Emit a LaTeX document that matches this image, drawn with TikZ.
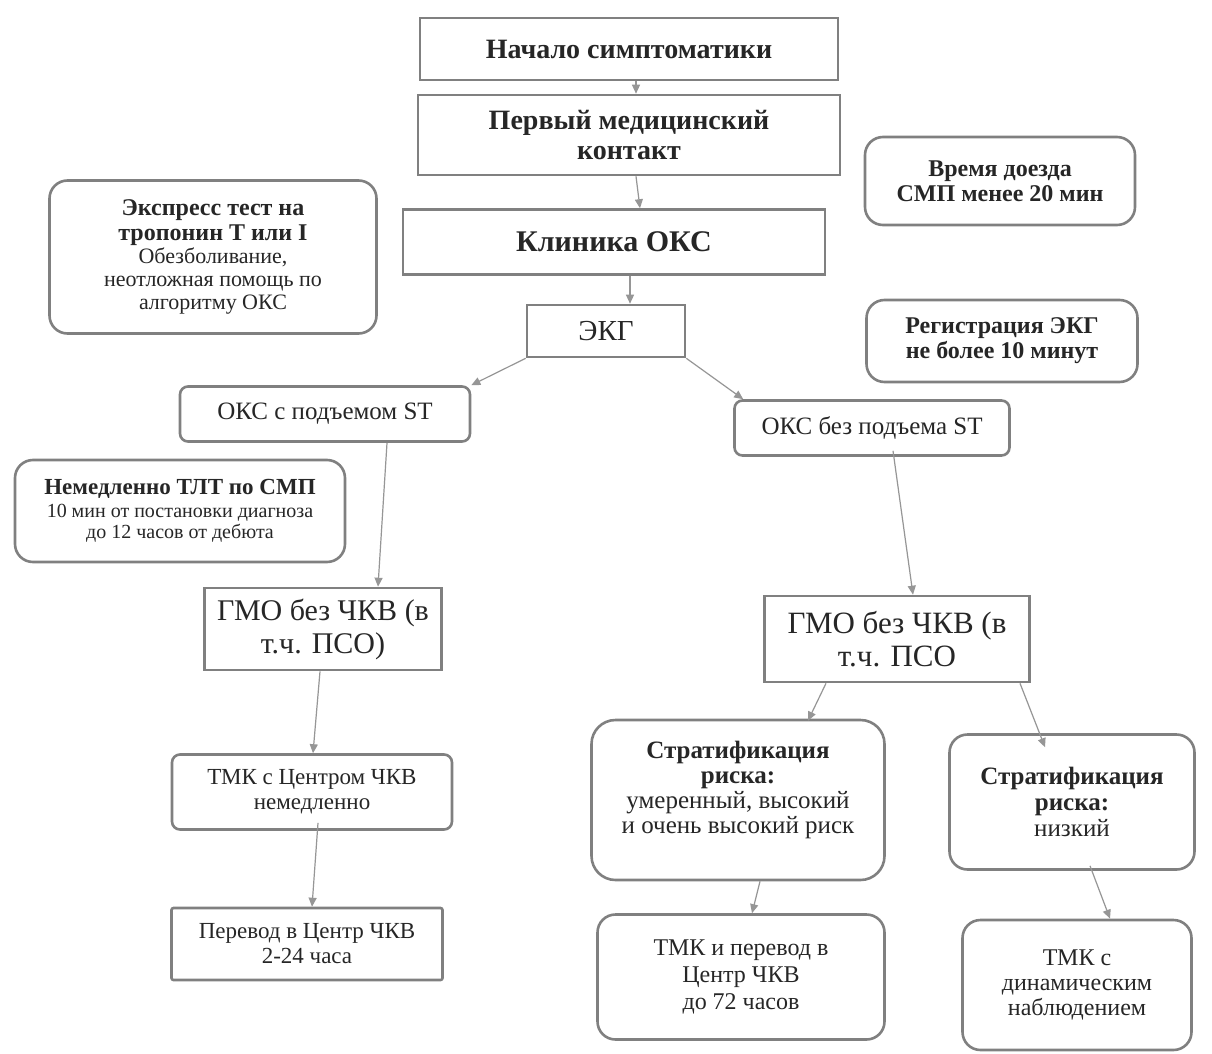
\documentclass[tikz,border=0pt]{standalone}
\usepackage{fontspec}
\setmainfont{Liberation Serif}
\usetikzlibrary{arrows.meta}
\definecolor{boxgray}{RGB}{128,128,128}
\definecolor{arrgray}{RGB}{150,150,150}
\newcommand{\fs}[2]{\fontsize{#1pt}{#2pt}\selectfont}
\tikzset{
  rbox/.style={draw=boxgray, line width=2.6pt, align=center, inner sep=2pt, text=black!85},
  rrbox/.style={rbox, rounded corners=18pt},
  srbox/.style={rbox, rounded corners=8pt},
  arr/.style={draw=arrgray, line width=1.2pt, -{Triangle[length=9pt,width=8pt]}},
}
\begin{document}
\begin{tikzpicture}[x=1pt,y=-1pt]
\useasboundingbox (0,0) rectangle (1212,1054);
\fill[white] (0,0) rectangle (1212,1054);
% helper x positions
\foreach \xx in {636,640,630,387,378,893,913,320,313,318,312,826,808,1020,1045,760,752,1090,1110}
  {\coordinate (x\xx) at (\xx,0);}
% top column
\node[rbox, minimum width=418, minimum height=62, font={\fs{28}{30}\bfseries}] (n1) at (629,49) {Начало симптоматики};
\node[rbox, minimum width=422, minimum height=80, font={\fs{28}{30}\bfseries}] (n2) at (629,135) {Первый медицинский\\контакт};
\node[rbox, minimum width=422, minimum height=65, font={\fs{30}{32}\bfseries}] (n3) at (614,242) {Клиника ОКС};
\node[rbox, minimum width=158, minimum height=52, font={\fs{29}{30}}] (n4) at (606,331) {ЭКГ};
% side notes
\node[rrbox, minimum width=327, minimum height=153, font={\fs{22}{23}}] (ex) at (213,257) {{\fs{24}{26}\bfseries Экспресс тест на}\\[2pt]{\fs{24}{26}\bfseries тропонин Т или I}\\Обезболивание,\\неотложная помощь по\\алгоритму ОКС};
\node[rrbox, minimum width=270, minimum height=88, font={\fs{24}{25}\bfseries}] (t20) at (1000,181) {Время доезда\\СМП менее 20 мин};
\node[rrbox, minimum width=271, minimum height=82, font={\fs{24}{25}\bfseries}] (t10) at (1002,341) {Регистрация ЭКГ\\не более 10 минут};
% branches
\node[srbox, minimum width=290, minimum height=55, font={\fs{25}{27}}] (st) at (325,414) {ОКС с подъемом ST};
\node[srbox, minimum width=275, minimum height=55, font={\fs{25}{27}}] (nst) at (872,428) {ОКС без подъема ST};
\node[rrbox, minimum width=330, minimum height=102, font={\fs{20}{21}}] (tlt) at (180,511) {{\fs{23}{25}\bfseries Немедленно ТЛТ по СМП}\\[2pt]10 мин от постановки диагноза\\до 12 часов от дебюта};
\node[rbox, minimum width=237, minimum height=82, font={\fs{30}{33}}] (g1) at (323,629) {ГМО без ЧКВ (в\\т.ч. ПСО)};
\node[rbox, minimum width=265, minimum height=86, font={\fs{31}{33}}] (g2) at (897,639) {ГМО без ЧКВ (в\\т.ч. ПСО};
% left lower
\node[srbox, minimum width=280, minimum height=75, font={\fs{23}{25}}] (tmk1) at (312,792) {ТМК с Центром ЧКВ\\немедленно};
\node[rbox, rounded corners=2pt, minimum width=271, minimum height=72, font={\fs{23}{25}}] (per) at (307,944) {Перевод в Центр ЧКВ\\2-24 часа};
% right lower
\node[rrbox, rounded corners=24pt, minimum width=293, minimum height=160] (s1) at (738,800) {};
\node[align=center, font={\fs{25}{25}}, text=black!85] (s1t) at (738,790) {{\fs{25}{27}\bfseries Стратификация}\\{\fs{25}{27}\bfseries риска:}\\умеренный, высокий\\и очень высокий риск};
\node[rrbox, minimum width=245, minimum height=135, font={\fs{25}{26}}] (s2) at (1072,802) {{\bfseries Стратификация}\\{\bfseries риска:}\\низкий};
\node[rrbox, minimum width=287, minimum height=125, font={\fs{24}{27}}] (tmk2) at (741,977) {ТМК и перевод в\\Центр ЧКВ\\до 72 часов};
\node[rrbox, minimum width=229, minimum height=130, font={\fs{24}{25}}] (tmk3) at (1077,985) {ТМК с\\динамическим\\наблюдением};
% arrows
\draw[arr] (n1.south -| x636) -- (n2.north -| x636);
\draw[arr] (n2.south -| x636) -- (n3.north -| x640);
\draw[arr] (n3.south -| x630) -- (n4.north -| x630);
\draw[arr] (n4.south west) -- (st.north east);
\draw[arr] (n4.south east) -- ([xshift=10pt]nst.north west);
\draw[arr] (st.south -| x387) -- (g1.north -| x378);
\draw[arr] ([yshift=6pt]nst.south -| x893) -- (g2.north -| x913);
\draw[arr] (g1.south -| x320) -- (tmk1.north -| x313);
\draw[arr] ([yshift=8pt]tmk1.south -| x318) -- (per.north -| x312);
\draw[arr] (g2.south -| x826) -- ([yshift=-2pt]s1.north -| x808);
\draw[arr] (g2.south -| x1020) -- ([yshift=-14pt]s2.north -| x1045);
\draw[arr] (s1.south -| x760) -- (tmk2.north -| x752);
\draw[arr] ([yshift=5pt]s2.south -| x1090) -- (tmk3.north -| x1110);
\end{tikzpicture}
\end{document}
